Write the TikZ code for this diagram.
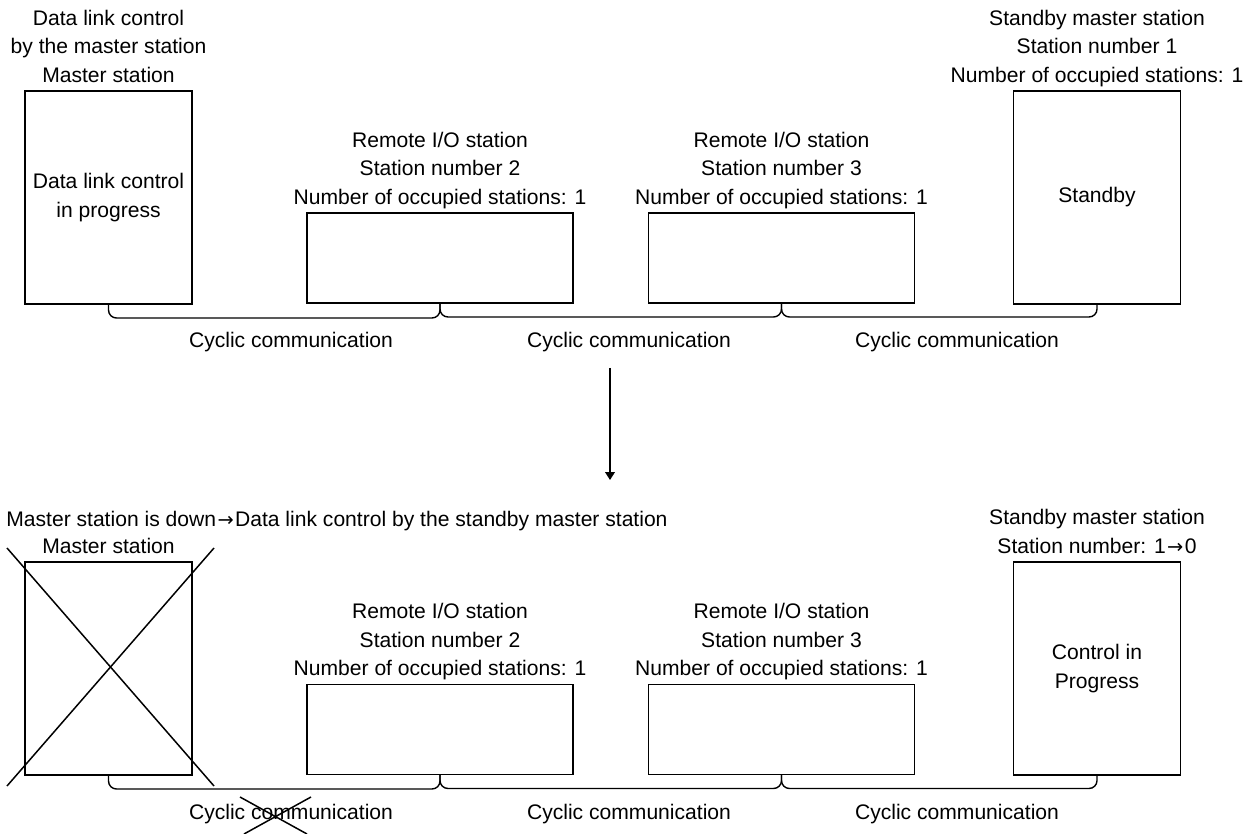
\documentclass[tikz,border=0pt]{standalone}
\usepackage{fontspec}
\setmainfont{Liberation Sans}
\newfontfamily\arrowfont{DejaVu Sans}
\usepackage{tikz}
\usetikzlibrary{arrows.meta,positioning,calc}
\definecolor{linec}{HTML}{000000}
\tikzset{
  >={Triangle[length=4.5pt,width=5.5pt]},
  stbox/.style={draw=linec,line width=0.85pt,fill=white,inner sep=2pt,outer sep=0pt,align=center},
  mbox/.style={stbox,minimum width=3.34cm,minimum height=4.26cm},
  rbox/.style={stbox,minimum width=5.32cm,minimum height=1.8cm},
  stlbl/.style={anchor=south,align=center,inner sep=0pt,text depth=0pt,yshift=4.8pt},
  cyc/.style={anchor=base,inner sep=0pt},
  bus/.style={draw=linec,line width=0.8pt,rounded corners=4.5pt},
  kill/.style={draw=linec,line width=0.85pt},
  flow/.style={->,draw=linec,line width=0.9pt},
}
\newcommand{\station}[5][mbox]{\node[#1] (#2) at (#3) {#4};\node[stlbl] (#2-lbl) at (#2.north) {#5};}
\newcommand{\busline}[2]{\draw[bus] (#1.south) -- ++(0,14) -| (#2.south);}
\newcommand{\goesto}{\kern0.8pt{\arrowfont\fontsize{11}{16.2}\selectfont →}\kern0.8pt}

\begin{document}
\begin{tikzpicture}[x=0.02cm,y=-0.02cm,font=\fontsize{12}{16.2}\selectfont]
  \useasboundingbox (0,0) rectangle (1255,834);
  % before: master station controls the link
  \station{ms1}{108.5,197.5}{Data link control\\in progress}{Data link control\\by the master station\\Master station}
  \station[rbox]{ra1}{440,258}{}{Remote I/O station\\Station number 2\\Number of occupied stations: 1}
  \station[rbox]{rb1}{781.5,258}{}{Remote I/O station\\Station number 3\\Number of occupied stations: 1}
  \station{sb1}{1097,197.5}{Standby}{Standby master station\\Station number 1\\Number of occupied stations: 1}
  \busline{ms1}{ra1} \busline{ra1}{rb1} \busline{rb1}{sb1}
  \node[cyc] (cy1) at (291,348) {Cyclic communication};
  \node[cyc] (cy2) at (629,348) {Cyclic communication};
  \node[cyc] (cy3) at (957,348) {Cyclic communication};
  \coordinate (dn-s) at (610,368); \coordinate (dn-e) at (610,480);
  \draw[flow] (dn-s) -- (dn-e);
  % after: standby master takes over
  \node[anchor=base west,inner sep=0pt] (down) at (6,527) {Master station is down\goesto Data link control by the standby master station};
  \station{ms2}{108.5,668.5}{}{Master station}
  \station[rbox]{ra2}{440,729.5}{}{Remote I/O station\\Station number 2\\Number of occupied stations: 1}
  \station[rbox]{rb2}{781.5,729.5}{}{Remote I/O station\\Station number 3\\Number of occupied stations: 1}
  \station{sb2}{1097,668.5}{Control in\\Progress}{Standby master station\\Station number: 1\goesto 0}
  \busline{ms2}{ra2} \busline{ra2}{rb2} \busline{rb2}{sb2}
  \node[cyc] (cy4) at (291,819) {Cyclic communication};
  \node[cyc] (cy5) at (629,819) {Cyclic communication};
  \node[cyc] (cy6) at (957,819) {Cyclic communication};
  \draw[kill] (7,548) -- (214,786) (7,786) -- (214,548);
  \draw[kill] (240,797) -- (307,834) (311,797) -- (244,834);
\end{tikzpicture}
\end{document}
